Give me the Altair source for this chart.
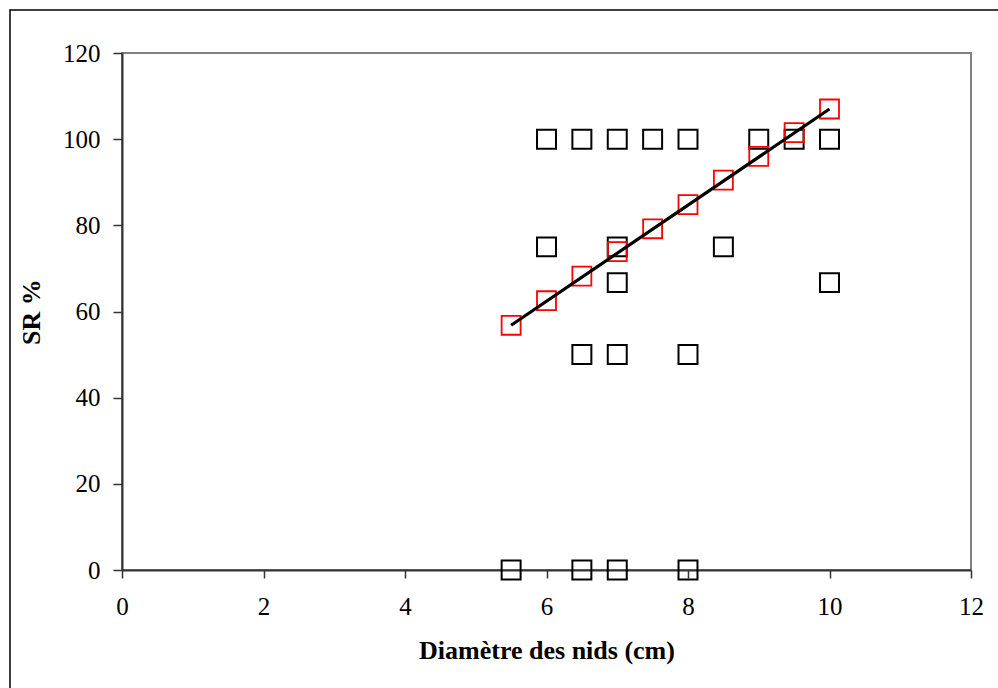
import altair as alt
import pandas as pd

# Observed data (black squares)
obs_x = [5.5, 6, 6, 6.5, 6.5, 6.5, 7, 7, 7, 7, 7, 7.5, 8, 8, 8, 8.5, 9, 9.5, 10, 10]
obs_y = [0, 100, 75, 100, 50, 0, 100, 75, 66.7, 50, 0, 100, 100, 50, 0, 75, 100, 100, 100, 66.7]

# Predicted values (red squares)
pred_x = [5.5, 6, 6.5, 7, 7.5, 8, 8.5, 9, 9.5, 10]
pred_y = [56.8, 62.5, 68.2, 73.9, 79.2, 84.8, 90.5, 96.0, 101.5, 107.0]

# Trend line end points
line_x = [5.5, 10]
line_y = [56.8, 107.0]

obs = pd.DataFrame({"x": obs_x, "y": obs_y})
pred = pd.DataFrame({"x": pred_x, "y": pred_y})
trend = pd.DataFrame({"x": line_x, "y": line_y})

FONT = "Liberation Serif"

xscale = alt.Scale(domain=[0, 12], nice=False, zero=False)
yscale = alt.Scale(domain=[0, 120], nice=False, zero=False)

xaxis = alt.Axis(
    title="Diamètre des nids (cm)",
    values=[0, 2, 4, 6, 8, 10, 12],
    format="d",
    grid=False,
    tickSize=8,
    labelFlush=False,
    labelPadding=16,
    titlePadding=18,
)
yaxis = alt.Axis(
    title="SR %",
    values=[0, 20, 40, 60, 80, 100, 120],
    format="d",
    grid=False,
    tickSize=9,
    labelFlush=False,
    labelPadding=13,
    titlePadding=18,
)

base_x = alt.X("x:Q", scale=xscale, axis=xaxis)
base_y = alt.Y("y:Q", scale=yscale, axis=yaxis)

border = alt.Chart(pd.DataFrame({"d": [0]})).mark_rect(
    fill="transparent", stroke="black", strokeWidth=1.5
).encode(
    x=alt.value(-112), x2=alt.value(900),
    y=alt.value(-43), y2=alt.value(700),
)

black_pts = alt.Chart(obs).mark_point(
    shape="square", filled=False, color="black", size=360, strokeWidth=2, opacity=1
).encode(x=base_x, y=base_y)

red_pts = alt.Chart(pred).mark_point(
    shape="square", filled=False, color="#ff0000", size=360, strokeWidth=1.8, opacity=1
).encode(x="x:Q", y="y:Q")

line = alt.Chart(trend).mark_line(color="black", strokeWidth=3.2).encode(
    x="x:Q", y="y:Q"
)

chart = alt.layer(border, black_pts, red_pts, line).properties(
    width=849,
    height=517,
    autosize=alt.AutoSizeParams(type="none"),
    padding={"left": 122, "top": 53, "right": 27, "bottom": 118},
    background="white",
).configure_view(
    stroke="#808080", strokeWidth=2
).configure_axis(
    domainColor="#333333",
    domainWidth=2,
    tickColor="#333333",
    tickWidth=1.5,
    labelFont=FONT,
    labelFontSize=25,
    labelColor="black",
    titleFont=FONT,
    titleFontSize=26,
    titleFontWeight="bold",
    titleColor="black",
)

chart.save("out.html", embed_options={"renderer": "svg", "actions": False})
